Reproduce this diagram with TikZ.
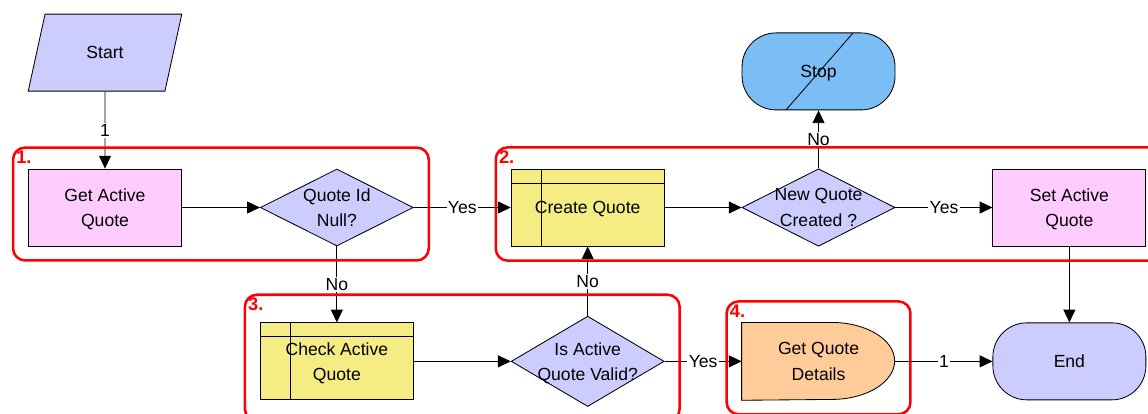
\documentclass[tikz,border=0pt]{standalone}
\usepackage{fontspec}
\setmainfont{Liberation Sans}
\usepackage{tikz}
\usetikzlibrary{shapes.geometric, arrows.meta, positioning, calc, fit, backgrounds}
\definecolor{pinkfill}{HTML}{FFCCFF}
\definecolor{lavfill}{HTML}{CCCCFF}
\definecolor{yellowfill}{HTML}{F5EC84}
\definecolor{stopfill}{HTML}{7BBEF5}
\definecolor{orangefill}{HTML}{FFCC99}
\tikzset{
  base/.style={draw, line width=0.6pt, minimum width=3.825cm, minimum height=1.925cm,
               inner sep=0pt, align=center, text depth=0pt,
               font=\fontsize{12.5}{18}\selectfont},
  block/.style={base, rectangle, fill=pinkfill},
  subproc/.style={base, rectangle, fill=yellowfill,
    path picture={
      \draw[line width=0.6pt] ([yshift=-0.35cm]path picture bounding box.north west)
        -- ([yshift=-0.35cm]path picture bounding box.north east);
      \draw[line width=0.6pt] ([xshift=0.75cm]path picture bounding box.north west)
        -- ([xshift=0.75cm]path picture bounding box.south west);}},
  decision/.style={base, diamond, fill=lavfill, inner xsep=-0.6cm},
  terminal/.style={base, rectangle, rounded corners=0.85cm},
  stopbox/.style={terminal, fill=stopfill,
    path picture={
      \draw[line width=0.6pt] ([xshift=-0.8125cm]path picture bounding box.south)
        -- ([xshift=0.8625cm]path picture bounding box.north);}},
  startbox/.style={base, trapezium, trapezium left angle=67, trapezium right angle=113,
                   trapezium stretches=true, fill=lavfill, minimum width=3.85cm},
  delaybox/.style={base, rectangle, draw=none},
  group/.style={draw=red, line width=1.8pt, rounded corners=0.3cm,
                inner xsep=0.375cm, inner ysep=0.4375cm},
  grouplabel/.style={text=red, anchor=north west, inner sep=3pt,
                     font=\fontsize{13}{14}\selectfont\bfseries},
  lbl/.style={fill=white, inner sep=1pt, font=\fontsize{12.5}{14}\selectfont},
  arrow/.style={-{Triangle[length=0.32cm, width=0.3cm]}, line width=0.6pt}
}

\begin{document}
\begin{tikzpicture}
    \useasboundingbox (0,0) rectangle (28.7,-10.325);

    \node[block] (getactive) at (2.625,-5.1875) {Get Active\\ Quote};
    \node[startbox, above=1.925cm of getactive] (start) {Start};
    \node[decision, right=1.95cm of getactive] (quotenull) {Quote Id\\ Null?};
    \node[subproc, right=2.425cm of quotenull] (createquote) {Create Quote};
    \node[decision, right=1.925cm of createquote] (newquote) {New Quote\\ Created ?};
    \node[block, right=2.425cm of newquote] (setactive) {Set Active\\ Quote};
    \node[stopbox, above=1.45cm of newquote] (stop) {Stop};
    \node[subproc, below=1.9cm of quotenull] (checkactive) {Check Active\\ Quote};
    \node[decision, right=2.425cm of checkactive] (isvalid) {Is Active\\ Quote Valid?};
    \node[delaybox, right=1.925cm of isvalid] (getdetails) {Get Quote\\ Details};
    \node[terminal, fill=lavfill, right=2.425cm of getdetails] (end) {End};

    % D shape behind the text
    \begin{scope}[on background layer]
      \draw[line width=0.6pt, fill=orangefill] (getdetails.north west) -- ++(2.25cm,0)
        arc[start angle=90, end angle=-90, x radius=1.575cm, y radius=0.9625cm]
        -- (getdetails.south west) -- cycle;
    \end{scope}

    \draw[arrow] (start) -- node[lbl]{1} (getactive);
    \draw[arrow] (getactive) -- (quotenull);
    \draw[arrow] (quotenull) -- node[lbl]{Yes} (createquote);
    \draw[arrow] (createquote) -- (newquote);
    \draw[arrow] (newquote) -- node[lbl]{Yes} (setactive);
    \draw[arrow] (newquote) -- node[lbl]{No} (stop);
    \draw[arrow] (setactive) -- (end);
    \draw[arrow] (quotenull) -- node[lbl]{No} (checkactive);
    \draw[arrow] (checkactive) -- (isvalid);
    \draw[arrow] (isvalid) -- node[lbl]{No} (createquote);
    \draw[arrow] (isvalid) -- node[lbl]{Yes} (getdetails);
    \draw[arrow] (getdetails) -- node[lbl]{1} (end);

    % red groups
    \node[group, fit=(getactive)(quotenull), yshift=0.0875cm,
          label={[grouplabel]north west:1.}] (grp1) {};
    \node[group, fit=(createquote)(newquote)(setactive), yshift=0.0875cm,
          label={[grouplabel]north west:2.}] (grp2) {};
    \node[group, fit=(checkactive)(isvalid), yshift=0.0875cm,
          label={[grouplabel]north west:3.}] (grp3) {};
    \node[group, fit=(getdetails), yshift=0.0875cm,
          label={[grouplabel]north west:4.}] (grp4) {};
\end{tikzpicture}
\end{document}
